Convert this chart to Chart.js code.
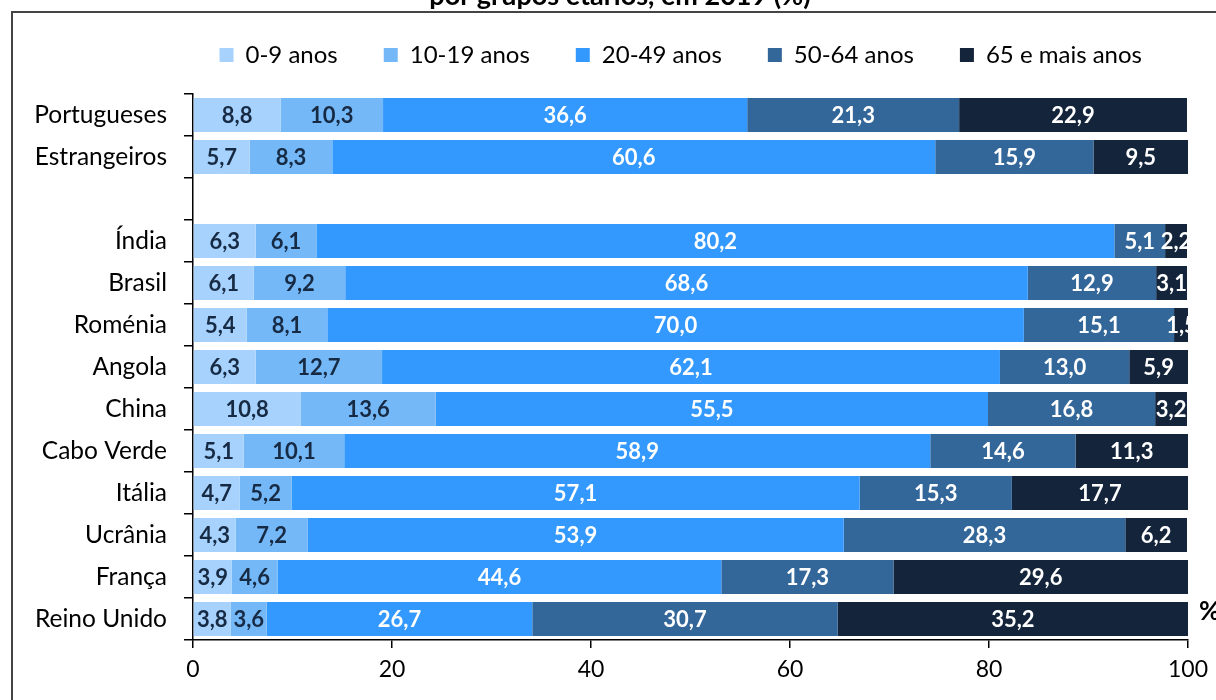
<!DOCTYPE html>
<html>
<head>
<meta charset="utf-8">
<script src="https://cdn.jsdelivr.net/npm/chart.js@4"></script>
<style>
  body { margin: 0; background: #fff; }
  #wrap { width: 1216px; height: 700px; position: relative; }
</style>
</head>
<body>
<div id="wrap"><canvas id="grupos"></canvas></div>
<script>
var categorias = ['Portugueses', 'Estrangeiros', '', 'Índia', 'Brasil', 'Roménia', 'Angola',
  'China', 'Cabo Verde', 'Itália', 'Ucrânia', 'França', 'Reino Unido'];

var idade0a9   = [8.8, 5.7, null, 6.3, 6.1, 5.4, 6.3, 10.8, 5.1, 4.7, 4.3, 3.9, 3.8];
var idade10a19 = [10.3, 8.3, null, 6.1, 9.2, 8.1, 12.7, 13.6, 10.1, 5.2, 7.2, 4.6, 3.6];
var idade20a49 = [36.6, 60.6, null, 80.2, 68.6, 70.0, 62.1, 55.5, 58.9, 57.1, 53.9, 44.6, 26.7];
var idade50a64 = [21.3, 15.9, null, 5.1, 12.9, 15.1, 13.0, 16.8, 14.6, 15.3, 28.3, 17.3, 30.7];
var idade65    = [22.9, 9.5, null, 2.2, 3.1, 1.5, 5.9, 3.2, 11.3, 17.7, 6.2, 29.6, 35.2];

var xTicks = [0, 20, 40, 60, 80, 100];

var cores = ['#a6d2fd', '#74b8f8', '#3399ff', '#336699', '#13243b'];
var corTextoEscuro = '#172a44';

var numeroPt = function(v) {
  return v.toFixed(1).replace('.', ',');
};

/* labels inside the bars */
var valoresPlugin = {
  id: 'valores',
  afterDatasetsDraw: function(chart) {
    var ctx = chart.ctx;
    var area = chart.chartArea;
    ctx.save();
    ctx.beginPath();
    ctx.rect(area.left, area.top, area.right - area.left, area.bottom - area.top);
    ctx.clip();
    ctx.font = 'bold 22px Lato';
    ctx.textAlign = 'center';
    ctx.textBaseline = 'middle';
    chart.data.datasets.forEach(function(ds, i) {
      var meta = chart.getDatasetMeta(i);
      ctx.fillStyle = i < 2 ? corTextoEscuro : '#ffffff';
      meta.data.forEach(function(bar, j) {
        var v = ds.data[j];
        if (v === null) return;
        ctx.fillText(numeroPt(v), (bar.x + bar.base) / 2, bar.y + 1);
      });
    });
    ctx.restore();
  }
};

/* frame, cut title and % sign */
var molduraPlugin = {
  id: 'moldura',
  beforeDraw: function(chart) {
    var ctx = chart.ctx;
    ctx.save();
    ctx.strokeStyle = '#444';
    ctx.lineWidth = 2;
    ctx.beginPath();
    ctx.moveTo(12, 700);
    ctx.lineTo(12, 12);
    ctx.lineTo(1216, 12);
    ctx.stroke();
    ctx.fillStyle = '#000';
    ctx.font = 'bold 27px Lato';
    ctx.textAlign = 'center';
    ctx.textBaseline = 'alphabetic';
    ctx.fillText('por grupos etários, em 2019 (%)', 620, 5);
    ctx.restore();
  },
  afterDraw: function(chart) {
    var ctx = chart.ctx;
    ctx.save();
    ctx.fillStyle = '#000';
    ctx.font = 'bold 26px Lato';
    ctx.textAlign = 'left';
    ctx.textBaseline = 'middle';
    ctx.fillText('%', 1199, 612);
    ctx.restore();
  }
};

var legendaMargem = {
  id: 'legendaMargem',
  beforeInit: function(chart) {
    var fitOrig = chart.legend.fit;
    chart.legend.fit = function() {
      fitOrig.bind(chart.legend)();
      this.height = 97;
    };
  }
};

var ctx = document.getElementById('grupos');
new Chart(ctx, {
  type: 'bar',
  data: {
    labels: categorias,
    datasets: [
      { label: '0-9 anos', data: idade0a9, backgroundColor: cores[0] },
      { label: '10-19 anos', data: idade10a19, backgroundColor: cores[1] },
      { label: '20-49 anos', data: idade20a49, backgroundColor: cores[2] },
      { label: '50-64 anos', data: idade50a64, backgroundColor: cores[3] },
      { label: '65 e mais anos', data: idade65, backgroundColor: cores[4] }
    ]
  },
  options: {
    indexAxis: 'y',
    responsive: true,
    maintainAspectRatio: false,
    animation: false,
    categoryPercentage: 1,
    barPercentage: 0.81,
    layout: { padding: { top: -3, right: 28, left: 0, bottom: 0 } },
    plugins: {
      tooltip: { enabled: false },
      legend: {
        position: 'top',
        align: 'end',
        labels: {
          boxWidth: 14,
          boxHeight: 14,
          padding: 46,
          color: '#000',
          font: { family: 'Lato', size: 24 }
        }
      }
    },
    scales: {
      x: {
        stacked: true,
        min: 0,
        max: 100,
        afterBuildTicks: function(scale) {
          scale.ticks = xTicks.map(function(v) { return { value: v }; });
        },
        afterFit: function(scale) { scale.height = 60; },
        border: { color: '#000', width: 1.5 },
        grid: { drawOnChartArea: false, color: '#000', tickLength: 8, lineWidth: 1.5 },
        ticks: { color: '#000', padding: 8, font: { family: 'Lato', size: 23 } }
      },
      y: {
        stacked: true,
        afterFit: function(scale) { scale.width = 193; },
        border: { color: '#000', width: 1.5 },
        grid: { drawOnChartArea: false, offset: true, color: '#000', tickLength: 9, lineWidth: 1.5 },
        ticks: { color: '#000', padding: 17, font: { family: 'Lato', size: 24.5 } }
      }
    }
  },
  plugins: [legendaMargem, valoresPlugin, molduraPlugin]
});
</script>
</body>
</html>
